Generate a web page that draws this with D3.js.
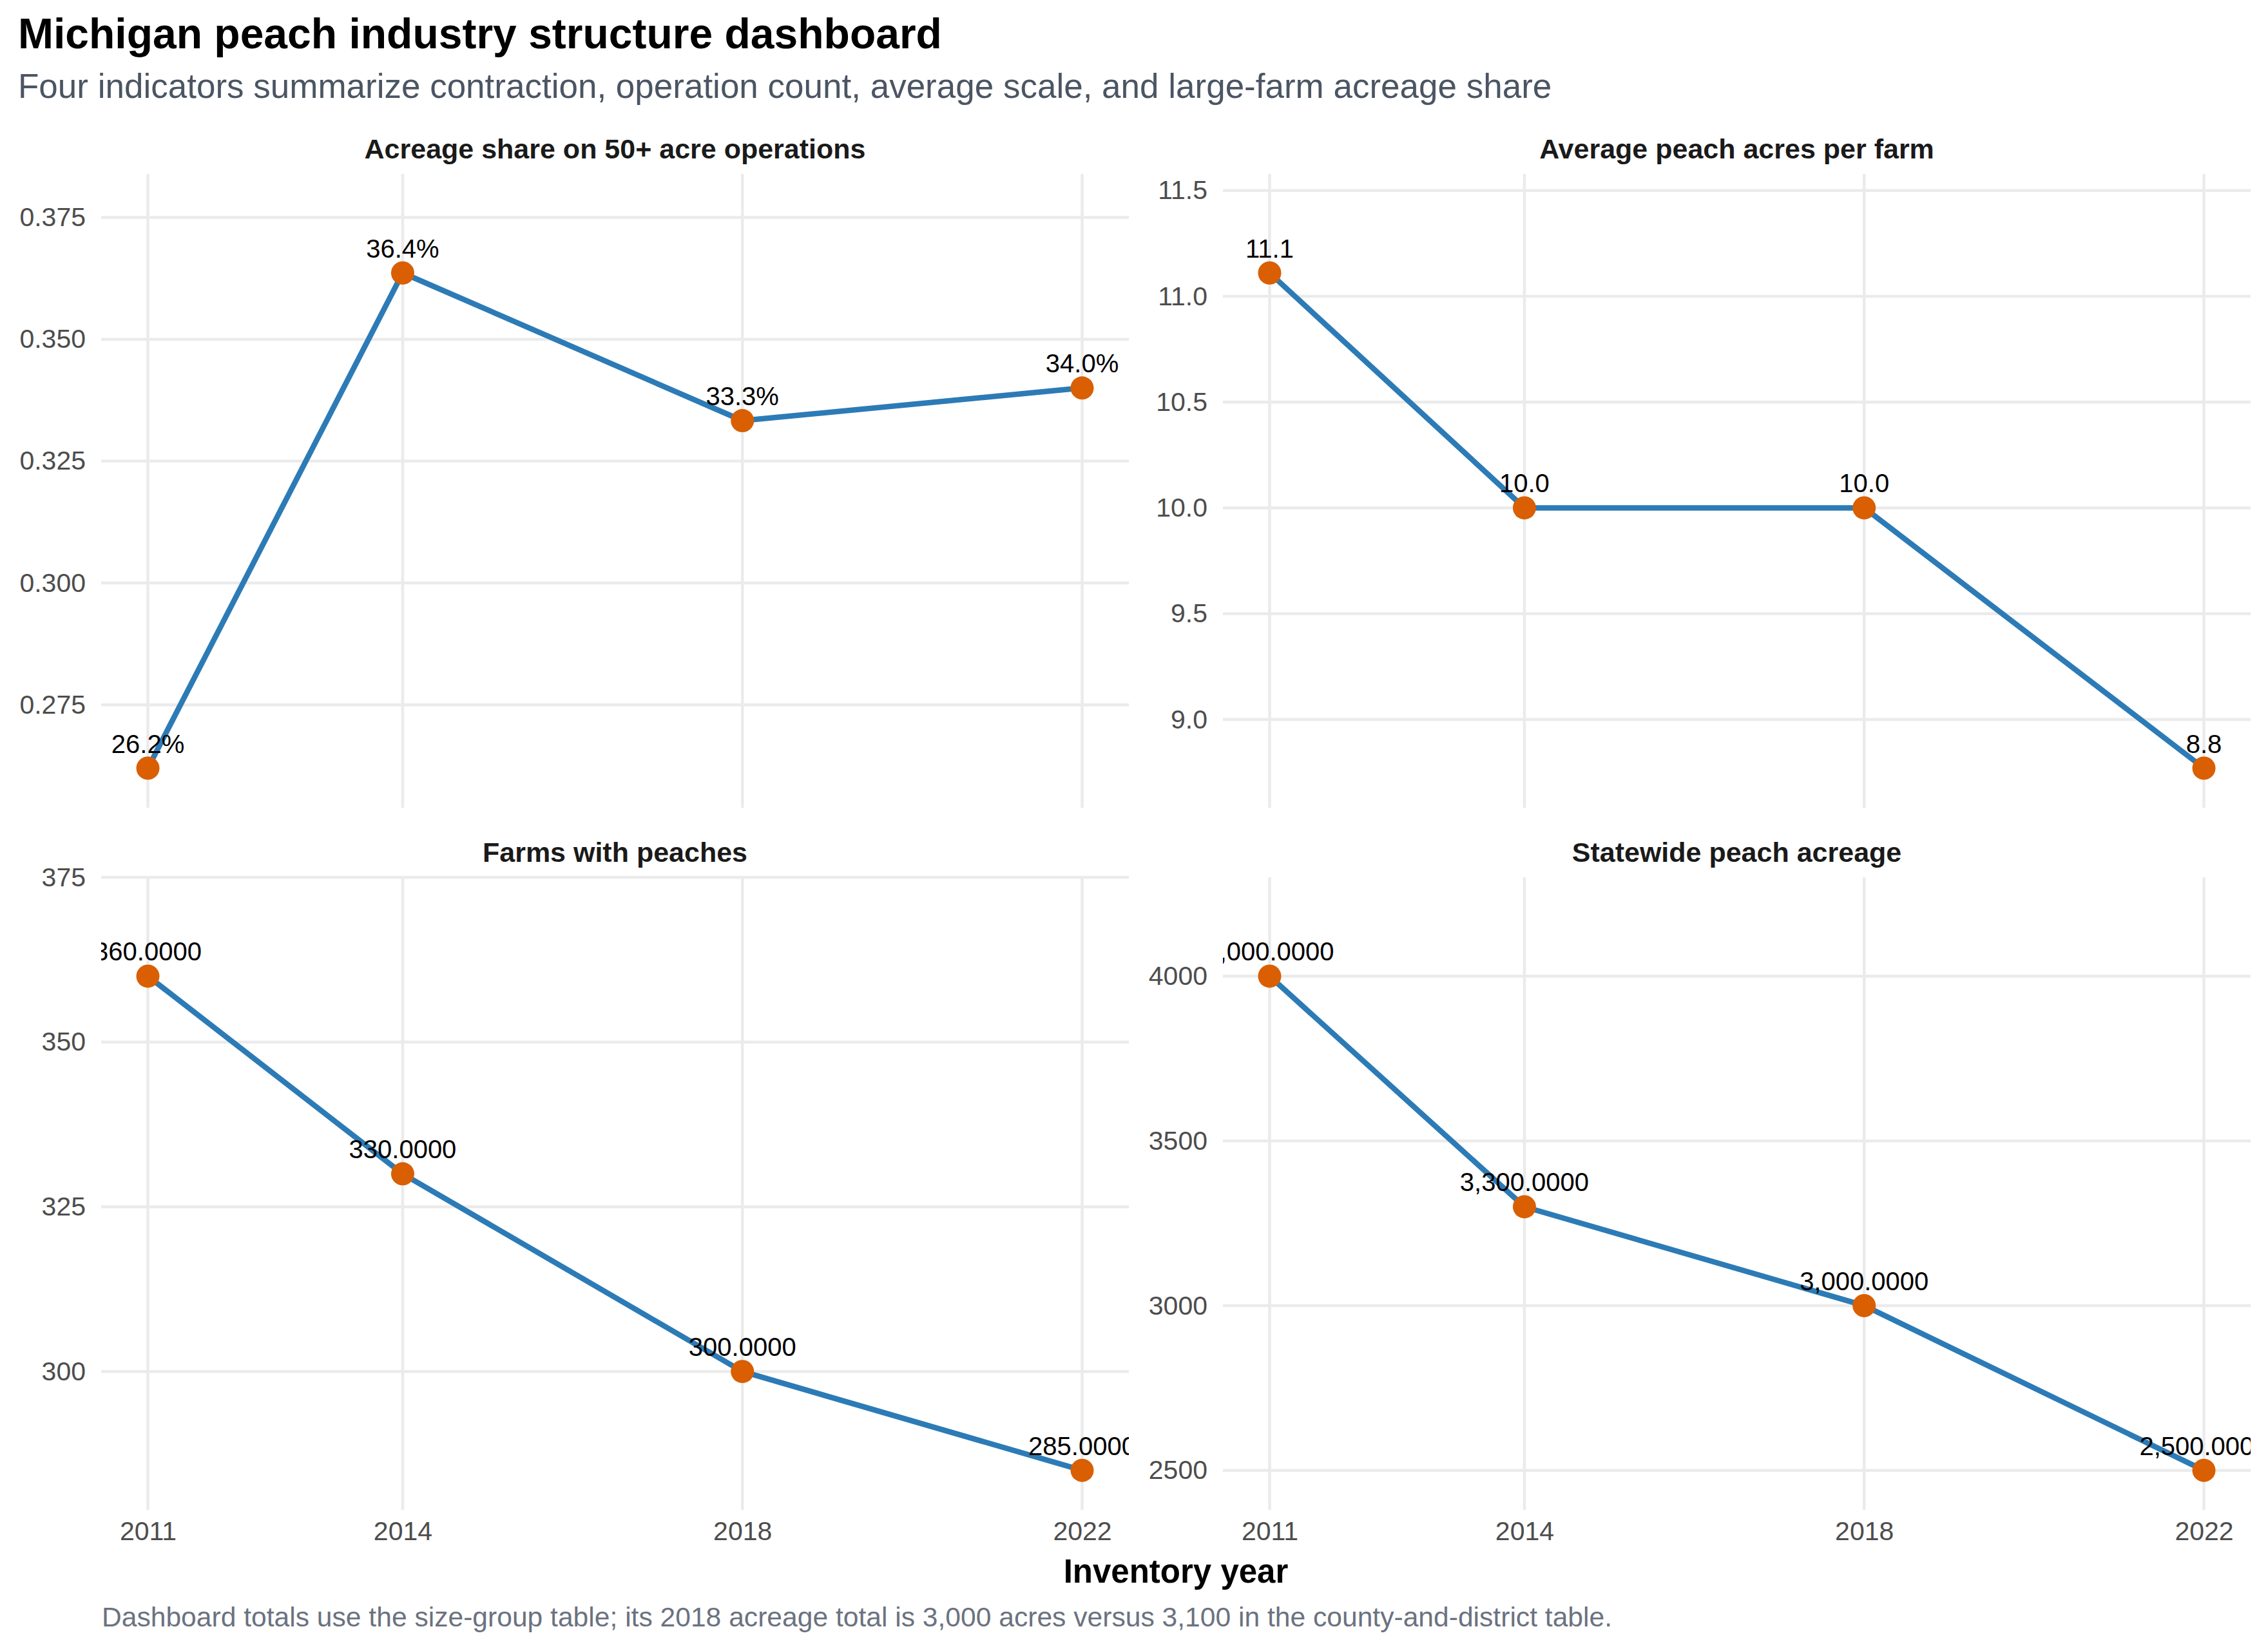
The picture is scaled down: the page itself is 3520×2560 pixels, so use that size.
<!DOCTYPE html>
<html>
<head>
<meta charset="utf-8">
<script src="https://cdn.jsdelivr.net/npm/d3@7"></script>
<style>
  body { margin: 0; background: #fff; }
  svg text { font-family: "Liberation Sans", Arial, sans-serif; }
</style>
</head>
<body>
<div id="chart"></div>
<script>
// data
let years = [2011, 2014, 2018, 2022];
let panelTitles = [
  "Acreage share on 50+ acre operations",
  "Average peach acres per farm",
  "Farms with peaches",
  "Statewide peach acreage"
];
let shareLarge = [0.262, 0.3636, 0.3333, 0.340];
let avgAcres = [11.11, 10.0, 10.0, 8.77];
let farmCount = [360, 330, 300, 285];
let peachAcres = [4000, 3300, 3000, 2500];

// y tick labels per panel
let shareTicks = [0.275, 0.300, 0.325, 0.350, 0.375];
let avgTicks = [9.0, 9.5, 10.0, 10.5, 11.0, 11.5];
let farmTicks = [300, 325, 350, 375];
let acreTicks = [2500, 3000, 3500, 4000];

let width = 3520;
let height = 2560;

let cols = [[157, 1752], [1898, 3493]];
let rows = [[270, 1254], [1362, 2344]];

let panels = [
  { title: panelTitles[0], values: shareLarge, ticks: shareTicks, tickFmt: d3.format(".3f"), labelFmt: d3.format(".1%"), col: 0, row: 0 },
  { title: panelTitles[1], values: avgAcres, ticks: avgTicks, tickFmt: d3.format(".1f"), labelFmt: d3.format(".1f"), col: 1, row: 0 },
  { title: panelTitles[2], values: farmCount, ticks: farmTicks, tickFmt: d3.format("d"), labelFmt: d3.format(",.4f"), col: 0, row: 1 },
  { title: panelTitles[3], values: peachAcres, ticks: acreTicks, tickFmt: d3.format("d"), labelFmt: d3.format(",.4f"), col: 1, row: 1 }
];

let svg = d3.select("#chart").append("svg")
  .attr("width", width)
  .attr("height", height)
  .style("background", "#fff");

// titles
svg.append("text").attr("x", 28).attr("y", 75)
  .attr("font-size", 66).attr("font-weight", "bold").attr("fill", "#000")
  .text("Michigan peach industry structure dashboard");
svg.append("text").attr("x", 28).attr("y", 152)
  .attr("font-size", 53).attr("fill", "#4b5563")
  .text("Four indicators summarize contraction, operation count, average scale, and large-farm acreage share");

panels.forEach(function (p, i) {
  let x0 = cols[p.col][0], x1 = cols[p.col][1];
  let y0 = rows[p.row][0], y1 = rows[p.row][1];

  let xScale = d3.scaleLinear()
    .domain([2011 - 0.55, 2022 + 0.55])
    .range([x0, x1]);

  // free y with more room on top for the labels
  let lo = d3.min(p.values), hi = d3.max(p.values);
  let span = hi - lo;
  let yScale = d3.scaleLinear()
    .domain([lo - span * 0.08, hi + span * 0.2])
    .range([y1, y0]);

  let g = svg.append("g").attr("class", "panel");

  // strip title
  g.append("text")
    .attr("x", (x0 + x1) / 2)
    .attr("y", y0 - 24)
    .attr("text-anchor", "middle")
    .attr("font-size", 43)
    .attr("font-weight", "bold")
    .attr("fill", "#1a1a1a")
    .text(p.title);

  // grid
  g.selectAll(".hgrid").data(p.ticks).enter().append("line")
    .attr("class", "hgrid")
    .attr("x1", x0).attr("x2", x1)
    .attr("y1", function (d) { return yScale(d); })
    .attr("y2", function (d) { return yScale(d); })
    .attr("stroke", "#ebebeb").attr("stroke-width", 4.5);

  g.selectAll(".vgrid").data(years).enter().append("line")
    .attr("class", "vgrid")
    .attr("x1", function (d) { return xScale(d); })
    .attr("x2", function (d) { return xScale(d); })
    .attr("y1", y0).attr("y2", y1)
    .attr("stroke", "#ebebeb").attr("stroke-width", 4.5);

  // y axis labels
  let yAxis = d3.axisLeft(yScale).tickValues(p.ticks).tickFormat(p.tickFmt).tickSize(0).tickPadding(24);
  let ya = g.append("g").attr("transform", "translate(" + x0 + ",0)").call(yAxis);
  ya.select(".domain").remove();
  ya.selectAll("text")
    .attr("font-size", 41)
    .attr("fill", "#4d4d4d")
    .style("font-family", "'Liberation Sans', Arial, sans-serif");

  // x axis labels only on bottom row
  if (p.row === 1) {
    let xAxis = d3.axisBottom(xScale).tickValues(years).tickFormat(d3.format("d")).tickSize(0).tickPadding(18);
    let xa = g.append("g").attr("transform", "translate(0," + y1 + ")").call(xAxis);
    xa.select(".domain").remove();
    xa.selectAll("text")
      .attr("font-size", 41)
      .attr("fill", "#4d4d4d")
      .style("font-family", "'Liberation Sans', Arial, sans-serif");
  }

  // clip marks to the panel
  svg.append("clipPath").attr("id", "clip" + i)
    .append("rect").attr("x", x0).attr("y", y0).attr("width", x1 - x0).attr("height", y1 - y0);

  let marks = g.append("g").attr("clip-path", "url(#clip" + i + ")");

  let pts = years.map(function (yr, k) { return { year: yr, value: p.values[k] }; });

  let line = d3.line()
    .x(function (d) { return xScale(d.year); })
    .y(function (d) { return yScale(d.value); });

  marks.append("path")
    .datum(pts)
    .attr("d", line)
    .attr("fill", "none")
    .attr("stroke", "#2c7bb6")
    .attr("stroke-width", 8.5)
    .attr("stroke-linejoin", "round");

  marks.selectAll("circle").data(pts).enter().append("circle")
    .attr("cx", function (d) { return xScale(d.year); })
    .attr("cy", function (d) { return yScale(d.value); })
    .attr("r", 18)
    .attr("fill", "#d95f02");

  marks.selectAll(".lbl").data(pts).enter().append("text")
    .attr("class", "lbl")
    .attr("x", function (d) { return xScale(d.year); })
    .attr("y", function (d) { return yScale(d.value) - 24; })
    .attr("text-anchor", "middle")
    .attr("font-size", 40)
    .attr("fill", "#000")
    .text(function (d) { return p.labelFmt(d.value); });
});

// shared x title and caption
svg.append("text")
  .attr("x", (cols[0][0] + cols[1][1]) / 2)
  .attr("y", 2457)
  .attr("text-anchor", "middle")
  .attr("font-size", 51)
  .attr("font-weight", "bold")
  .attr("fill", "#000")
  .text("Inventory year");

svg.append("text")
  .attr("x", 158)
  .attr("y", 2525)
  .attr("font-size", 42.6)
  .attr("fill", "#6b7280")
  .text("Dashboard totals use the size-group table; its 2018 acreage total is 3,000 acres versus 3,100 in the county-and-district table.");
</script>
</body>
</html>
